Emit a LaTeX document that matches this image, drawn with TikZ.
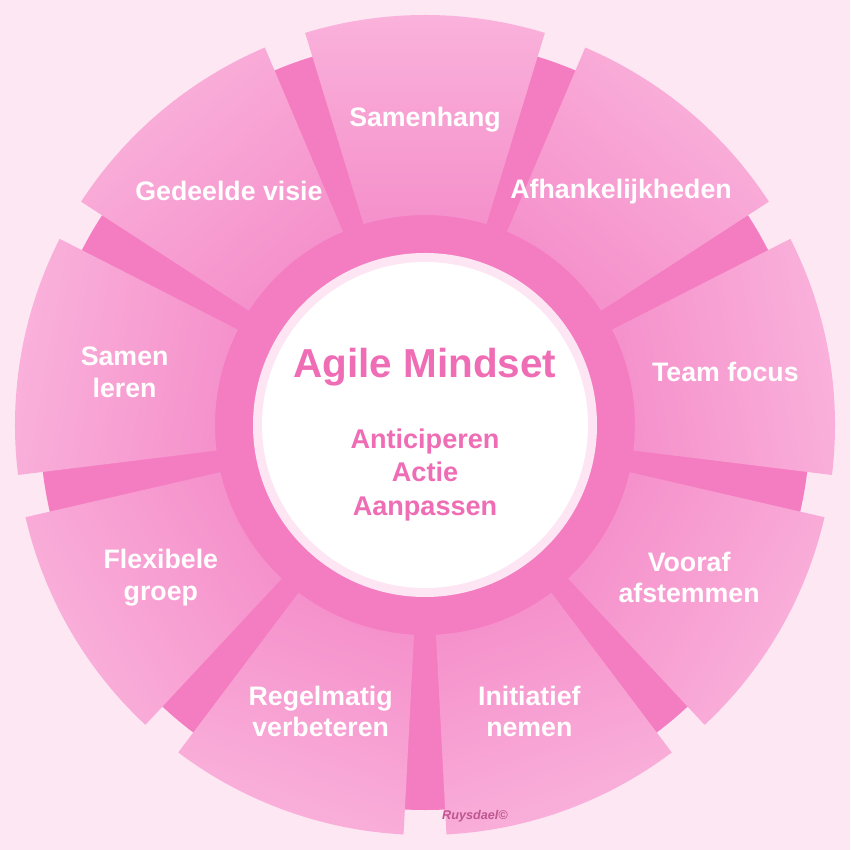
\documentclass[tikz,border=0pt]{standalone}
\usepackage{fontspec}
\setmainfont{Liberation Sans}
\definecolor{backpink}{HTML}{FDE7F3}
\definecolor{ringpink}{HTML}{F47DC2}
\definecolor{segpink}{HTML}{F9A5D5}
\definecolor{segdark}{HTML}{F590CB}
\definecolor{titlepink}{HTML}{EE6DB4}
\tikzset{
	seglabel/.style={text=white,font=\bfseries\fontsize{7.6}{9}\selectfont,align=center},
	centerlabel/.style={text=titlepink,font=\bfseries,align=center}
}
\begin{document}
\begin{tikzpicture}[scale=0.01]
\fill[backpink] (-425,-425) rectangle (425,425);
\useasboundingbox (-425,-425) rectangle (425,425);

%Ring
\fill[ringpink] (0,0) circle (385);

%Segmenten
\foreach \a/\t in {90/Samenhang,50/Afhankelijkheden,10/Team focus,-30/{Vooraf\\afstemmen},-70/{Initiatief\\nemen},-110/{Regelmatig\\verbeteren},-150/{Flexibele\\groep},170/{Samen\\leren},130/{Gedeelde visie}}{
	\shade[top color=segpink!85!white,bottom color=segdark,shading angle=\a-90]
		(\a-17:210) -- (\a-17:410) arc[start angle=\a-17,end angle=\a+17,radius=410]
		-- (\a+17:210) arc[start angle=\a+17,end angle=\a-17,radius=210] -- cycle;
	\node[seglabel] (seg\a) at (\a:305) {\t};
}

%Midden
\fill[ringpink] (0,0) circle (205);
\fill[white!80!ringpink] (0,0) circle (172);
\fill[white] (0,0) circle (163);
\node[centerlabel,font=\bfseries\fontsize{11.5}{14}\selectfont] (title) at (0,58) {Agile Mindset};
\node[centerlabel,font=\bfseries\fontsize{7.7}{9.4}\selectfont] (sub) at (0,-50) {Anticiperen\\Actie\\Aanpassen};

\node[text=titlepink!80!black,font=\itshape\bfseries\fontsize{3.6}{4}\selectfont] (mark) at (50,-391) {Ruysdael©};
\end{tikzpicture}
\end{document}
